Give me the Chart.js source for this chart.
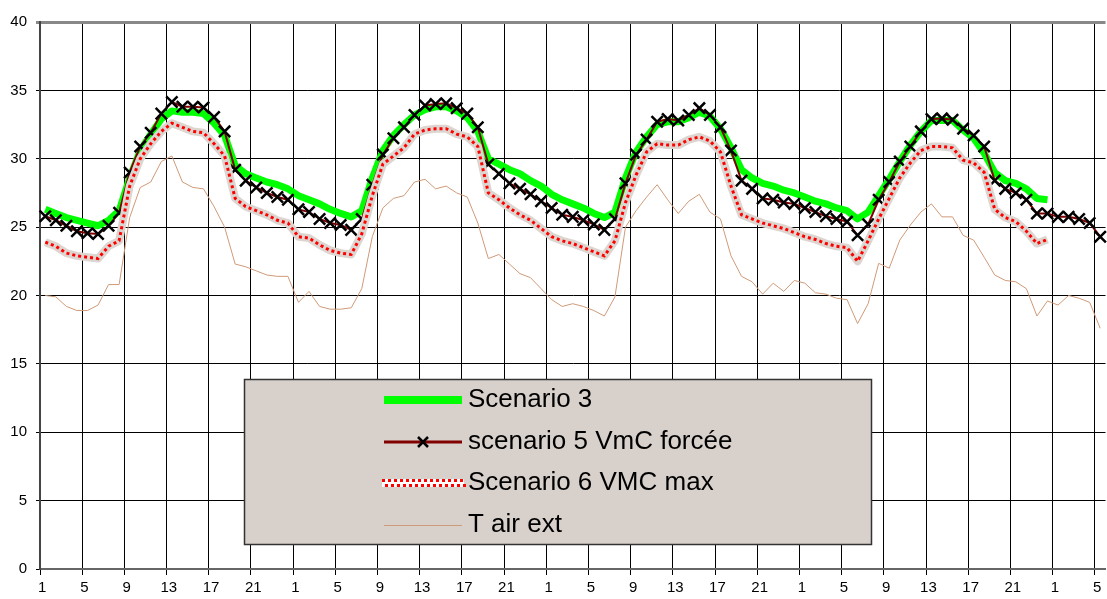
<!DOCTYPE html>
<html>
<head>
<meta charset="utf-8">
<script src="https://cdn.jsdelivr.net/npm/chart.js@4/dist/chart.umd.min.js"></script>
<style>
html, body { margin: 0; padding: 0; background: #fff; overflow: hidden; }
#wrap { width: 1107px; height: 599px; overflow: hidden; }
</style>
</head>
<body>
<div id="wrap"><canvas id="chart" width="1116" height="599"></canvas></div>
<script>
// heures (4 jours + debut du 5e)
const hours = [
  '1','2','3','4','5','6','7','8','9','10','11','12','13','14','15','16','17','18','19','20','21','22','23','24',
  '1','2','3','4','5','6','7','8','9','10','11','12','13','14','15','16','17','18','19','20','21','22','23','24',
  '1','2','3','4','5','6','7','8','9','10','11','12','13','14','15','16','17','18','19','20','21','22','23','24',
  '1','2','3','4','5','6','7','8','9','10','11','12','13','14','15','16','17','18','19','20','21','22','23','24',
  '1','2','3','4','5'
]

const scenario3 = [
  26.3, 26.0, 25.7, 25.5, 25.3, 25.1, 25.5, 26.2, 28.6, 30.6, 31.8, 32.9, 33.5, 33.4, 33.4, 33.3, 32.6, 31.7, 29.5, 28.9, 28.6, 28.3, 28.1, 27.8,
  27.3, 27.0, 26.7, 26.3, 26.0, 25.75, 26.2, 28.6, 30.6, 31.7, 32.5, 33.2, 33.6, 33.8, 33.8, 33.5, 33.0, 32.0, 30.0, 29.6, 29.2, 28.9, 28.4, 28.0,
  27.4, 27.0, 26.7, 26.4, 26.0, 25.7, 26.1, 28.6, 30.5, 31.6, 32.5, 32.7, 32.7, 33.0, 33.4, 33.1, 32.2, 30.8, 29.2, 28.6, 28.2, 28.0, 27.7, 27.5,
  27.2, 26.9, 26.7, 26.4, 26.2, 25.6, 26.1, 27.3, 28.5, 29.8, 31.0, 32.0, 32.8, 32.8, 32.8, 32.1, 31.5, 30.4, 29.0, 28.4, 28.2, 27.8, 27.1, 27.0
]

const scenario5 = [
  25.8, 25.5, 25.1, 24.7, 24.55, 24.5, 25.1, 26.05, 29.0, 30.9, 31.9, 33.3, 34.15, 33.8, 33.8, 33.75, 33.05, 32.0, 29.2, 28.4, 27.9, 27.5, 27.2, 27.0,
  26.3, 26.1, 25.6, 25.3, 25.15, 24.8, 25.6, 28.1, 30.3, 31.5, 32.3, 33.2, 33.9, 34.0, 34.05, 33.7, 33.3, 32.3, 29.6, 28.9, 28.2, 27.8, 27.4, 26.9,
  26.4, 25.9, 25.75, 25.5, 25.2, 24.8, 25.6, 28.2, 30.3, 31.4, 32.7, 32.9, 32.8, 33.2, 33.7, 33.2, 32.3, 30.6, 28.4, 27.8, 27.1, 27.0, 26.8, 26.7,
  26.4, 26.1, 25.8, 25.6, 25.4, 24.4, 25.2, 27.0, 28.3, 29.8, 30.9, 32.0, 32.9, 32.95, 32.85, 32.2, 31.7, 30.9, 28.4, 27.8, 27.5, 27.0, 26.0, 26.0,
  25.75, 25.75, 25.6, 25.3, 24.3
]

const scenario6 = [
  23.9, 23.6, 23.1, 22.9, 22.8, 22.7, 23.6, 24.0, 28.0, 30.0, 31.1, 32.0, 32.6, 32.3, 32.0, 31.9, 31.1, 30.2, 27.1, 26.5, 26.2, 25.9, 25.5, 25.3,
  24.3, 24.2, 23.7, 23.3, 23.1, 23.0, 24.5, 27.3, 29.6, 30.2, 30.8, 31.8, 32.1, 32.2, 32.2, 31.8, 31.6, 30.9, 27.5, 27.0, 26.4, 25.9, 25.5, 24.9,
  24.3, 24.0, 23.8, 23.5, 23.2, 22.9, 24.0, 26.8, 28.8, 30.5, 31.1, 31.0, 31.0, 31.4, 31.6, 31.3, 30.5, 28.0, 25.9, 25.6, 25.3, 25.1, 24.9, 24.6,
  24.3, 24.1, 23.8, 23.6, 23.5, 22.5, 24.0, 25.6, 27.1, 28.6, 29.7, 30.6, 30.9, 30.9, 30.8, 29.9, 29.7, 29.0, 26.3, 25.7, 25.4, 24.7, 23.8, 24.1
]

const tAirExt = [
  20.0, 19.9, 19.2, 18.9, 18.9, 19.3, 20.8, 20.8, 25.7, 27.9, 28.3, 29.8, 30.2, 28.3, 27.9, 27.8, 26.5, 25.0, 22.3, 22.1, 21.8, 21.5, 21.4, 21.4,
  19.5, 20.3, 19.2, 19.0, 19.0, 19.1, 20.5, 24.3, 26.4, 27.1, 27.3, 28.3, 28.5, 27.8, 28.0, 27.5, 27.2, 25.3, 22.7, 23.0, 22.3, 21.6, 21.3, 20.5,
  19.7, 19.2, 19.4, 19.2, 18.9, 18.5, 19.9, 25.0, 26.2, 27.2, 28.1, 27.0, 26.0, 26.9, 27.4, 26.1, 25.6, 22.9, 21.4, 21.0, 20.1, 20.9, 20.3, 21.1,
  20.9, 20.2, 20.1, 19.8, 19.7, 17.95, 19.4, 22.35, 22.0, 24.05, 25.15, 26.1, 26.7, 25.75, 25.75, 24.4, 24.05, 22.8, 21.5, 21.1, 21.0, 20.5, 18.5, 19.6,
  19.3, 20.0, 19.8, 19.5, 17.6
]

const yTicks = [0, 5, 10, 15, 20, 25, 30, 35, 40]

const FONT = "'Liberation Sans', Arial, sans-serif"

// legende dessinee dans le graphique (boite grise)
const legendBox = {
    id: 'legendBox',
    afterDraw(chart){

        const ctx = chart.ctx
        const ds = chart.data.datasets
        const x0 = 384, x1 = 462
        const rows = [400, 442, 483, 525]

        ctx.save()
        ctx.fillStyle = '#d8d0cb'
        ctx.fillRect(244, 379, 628, 166)
        ctx.strokeStyle = '#333'
        ctx.lineWidth = 1.5
        ctx.strokeRect(244.5, 379.5, 627, 165)

        // Scenario 3
        ctx.strokeStyle = ds[0].borderColor
        ctx.lineWidth = 8
        ctx.beginPath(); ctx.moveTo(x0, rows[0]); ctx.lineTo(x1, rows[0]); ctx.stroke()

        // scenario 5
        ctx.strokeStyle = ds[1].borderColor
        ctx.lineWidth = 3
        ctx.beginPath(); ctx.moveTo(x0, rows[1]); ctx.lineTo(x1, rows[1]); ctx.stroke()
        ctx.strokeStyle = '#000'
        ctx.lineWidth = 2.5
        ctx.beginPath()
        ctx.moveTo(418, rows[1] - 5); ctx.lineTo(428, rows[1] + 5)
        ctx.moveTo(428, rows[1] - 5); ctx.lineTo(418, rows[1] + 5)
        ctx.stroke()

        // Scenario 6 : damier rouge
        ctx.fillStyle = '#fff'
        ctx.fillRect(x0 - 2, rows[2] - 4, x1 - x0 + 4, 8)
        ctx.fillStyle = ds[3].borderColor
        for (let x = x0 - 2; x < x1 + 2; x += 6) {
            ctx.fillRect(x, rows[2] - 4, 3, 3)
            ctx.fillRect(x + 3, rows[2] + 1, 3, 3)
        }

        // T air ext
        ctx.strokeStyle = ds[4].borderColor
        ctx.lineWidth = 1
        ctx.beginPath(); ctx.moveTo(x0, rows[3] + 0.5); ctx.lineTo(x1, rows[3] + 0.5); ctx.stroke()

        ctx.fillStyle = '#000'
        ctx.font = '26px ' + FONT
        ctx.textBaseline = 'middle'
        ctx.fillText(ds[0].label, 468, rows[0])
        ctx.fillText(ds[1].label, 468, rows[1])
        ctx.fillText(ds[2].label, 468, rows[2])
        ctx.fillText(ds[4].label, 468, rows[3])
        ctx.restore()
    }
}

new Chart(
    document.getElementById('chart'),
    {
        type: 'line',
        data: {
            labels: hours,
            datasets: [
                {
                    label: 'Scenario 3',
                    data: scenario3,
                    borderColor: '#00ff00',
                    borderWidth: 7,
                    borderJoinStyle: 'round',
                    pointRadius: 0,
                    order: 5
                },
                {
                    label: 'scenario 5 VmC forcée',
                    data: scenario5,
                    borderColor: '#800000',
                    borderWidth: 2,
                    pointStyle: 'crossRot',
                    pointRadius: 8,
                    pointBorderColor: '#000',
                    pointBackgroundColor: '#000',
                    pointBorderWidth: 2.5,
                    order: 4
                },
                {
                    label: 'Scenario 6 VMC max',
                    data: scenario6,
                    borderColor: '#ddd5d0',
                    borderWidth: 8,
                    borderJoinStyle: 'round',
                    pointRadius: 0,
                    order: 3
                },
                {
                    label: 'Scenario 6 VMC max (motif)',
                    data: scenario6,
                    borderColor: '#ff0000',
                    borderWidth: 3,
                    borderDash: [3, 3],
                    pointRadius: 0,
                    order: 2
                },
                {
                    label: 'T air ext',
                    data: tAirExt,
                    borderColor: '#cf9a78',
                    borderWidth: 1,
                    pointRadius: 0,
                    order: 1
                }
            ]
        },
        options: {
            responsive: false,
            animation: false,
            devicePixelRatio: 1,
            layout: { padding: { top: 22, right: 2, left: 0, bottom: 0 } },
            plugins: {
                legend: { display: false },
                tooltip: { enabled: false }
            },
            scales: {
                x: {
                    offset: true,
                    grid: {
                        offset: true,
                        color: c => c.index % 4 === 0 ? '#000' : 'rgba(0,0,0,0)',
                        lineWidth: 1,
                        tickLength: 6
                    },
                    border: { color: '#666', width: 2 },
                    ticks: {
                        autoSkip: false,
                        maxRotation: 0,
                        labelOffset: -3,
                        padding: 4,
                        color: '#000',
                        font: { family: FONT, size: 15 },
                        callback: (v, i) => i % 4 === 0 ? hours[i] : ''
                    },
                    afterFit: s => { s.height = 30 }
                },
                y: {
                    min: yTicks[0],
                    max: yTicks[yTicks.length - 1],
                    grid: {
                        color: c => c.tick && c.tick.value === 40 ? '#888' : '#000',
                        lineWidth: c => c.tick && c.tick.value === 40 ? 3 : 1,
                        tickLength: 4
                    },
                    border: { color: '#444', width: 2 },
                    ticks: {
                        stepSize: 5,
                        padding: 9,
                        color: '#000',
                        font: { family: FONT, size: 15 }
                    },
                    afterFit: s => { s.width = 40 }
                }
            }
        },
        plugins: [legendBox]
    }
)
</script>
</body>
</html>
